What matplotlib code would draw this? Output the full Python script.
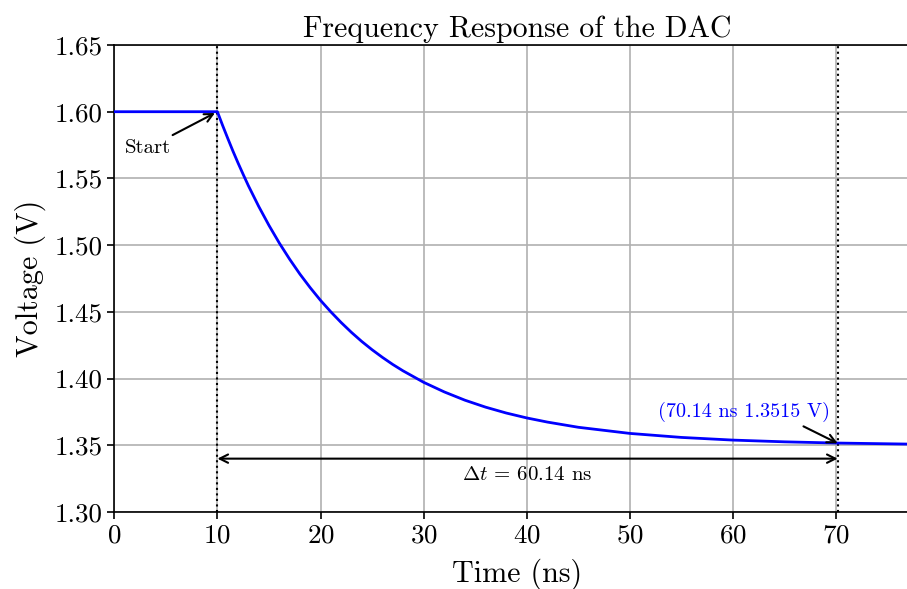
import matplotlib
matplotlib.use("Agg")
import matplotlib.pyplot as plt

# data
time_ns = [0, 10, 10.5, 11, 11.5, 12, 12.5, 13, 14, 15, 16, 17, 18, 19, 20, 21, 22,
           23, 24, 25, 26, 27, 28, 30, 32, 34, 36, 38, 40, 42, 45, 50, 55, 60, 65,
           70, 78]
voltage = [1.600, 1.600, 1.5898, 1.5801, 1.5706, 1.5616, 1.5530, 1.5446, 1.5291,
           1.5148, 1.5016, 1.4895, 1.4783, 1.4681, 1.4586, 1.4500, 1.4420, 1.4346,
           1.4278, 1.4216, 1.4159, 1.4106, 1.4058, 1.3972, 1.3900, 1.3838, 1.3786,
           1.3742, 1.3705, 1.3674, 1.3635, 1.3589, 1.3559, 1.3539, 1.3526, 1.3517,
           1.3508]
x_ticks = [0, 10, 20, 30, 40, 50, 60, 70]
y_ticks = [1.30, 1.35, 1.40, 1.45, 1.50, 1.55, 1.60, 1.65]
t_start, v_start = 10, 1.60
t_end, v_end = 70.14, 1.3515
dt = 60.14

plt.rcParams['font.family'] = ['cmr10', 'DejaVu Serif']
plt.rcParams['mathtext.fontset'] = 'cm'
plt.rcParams['axes.formatter.use_mathtext'] = True
plt.rcParams['axes.unicode_minus'] = False

fig = plt.figure(figsize=(9.07, 5.89), dpi=100)
ax = fig.add_axes([0.126, 0.1307, 0.8877, 0.7929])

ax.plot(time_ns, voltage, color='blue', lw=2, zorder=3, solid_joinstyle='round')
ax.axvline(t_start, color='black', ls=':', lw=1.5, zorder=2)
ax.axvline(t_end, color='black', ls=':', lw=1.5, zorder=2)

ax.annotate('Start', xy=(t_start, v_start), xytext=(1.0, 1.569), fontsize=15,
            arrowprops=dict(arrowstyle='->', color='black', lw=1.5, mutation_scale=15))
ax.annotate('(70.14 ns 1.3515 V)', xy=(t_end, v_end), xytext=(52.7, 1.371),
            fontsize=14.5, color='blue',
            arrowprops=dict(arrowstyle='->', color='black', lw=1.5, mutation_scale=15,
                            shrinkA=2, shrinkB=0, relpos=(0.8, 0.0)))
ax.annotate('', xy=(t_start, 1.34), xytext=(t_end, 1.34),
            arrowprops=dict(arrowstyle='<->', color='black', lw=1.5, mutation_scale=15,
                            shrinkA=0, shrinkB=0))
ax.text(40, 1.3277, r'$\Delta t$ = 60.14 ns', fontsize=15, ha='center', va='center')

ax.set_xlim(0, 78.07)
ax.set_ylim(1.30, 1.65)
ax.set_xticks(x_ticks)
ax.set_yticks(y_ticks)
ax.set_yticklabels([f'{v:.2f}' for v in y_ticks])
ax.tick_params(labelsize=19.5, width=1.2, length=5)
ax.grid(True, color='#b0b0b0', lw=1.2)
ax.set_axisbelow(True)
for s in ax.spines.values():
    s.set_linewidth(1.2)
ax.spines['right'].set_visible(False)

ax.set_xlabel('Time (ns)', fontsize=21.7, labelpad=8)
ax.set_ylabel('Voltage (V)', fontsize=21.7, labelpad=6)
ax.set_title('Frequency Response of the DAC', fontsize=21.5)

fig.savefig('out.png', dpi=100)
